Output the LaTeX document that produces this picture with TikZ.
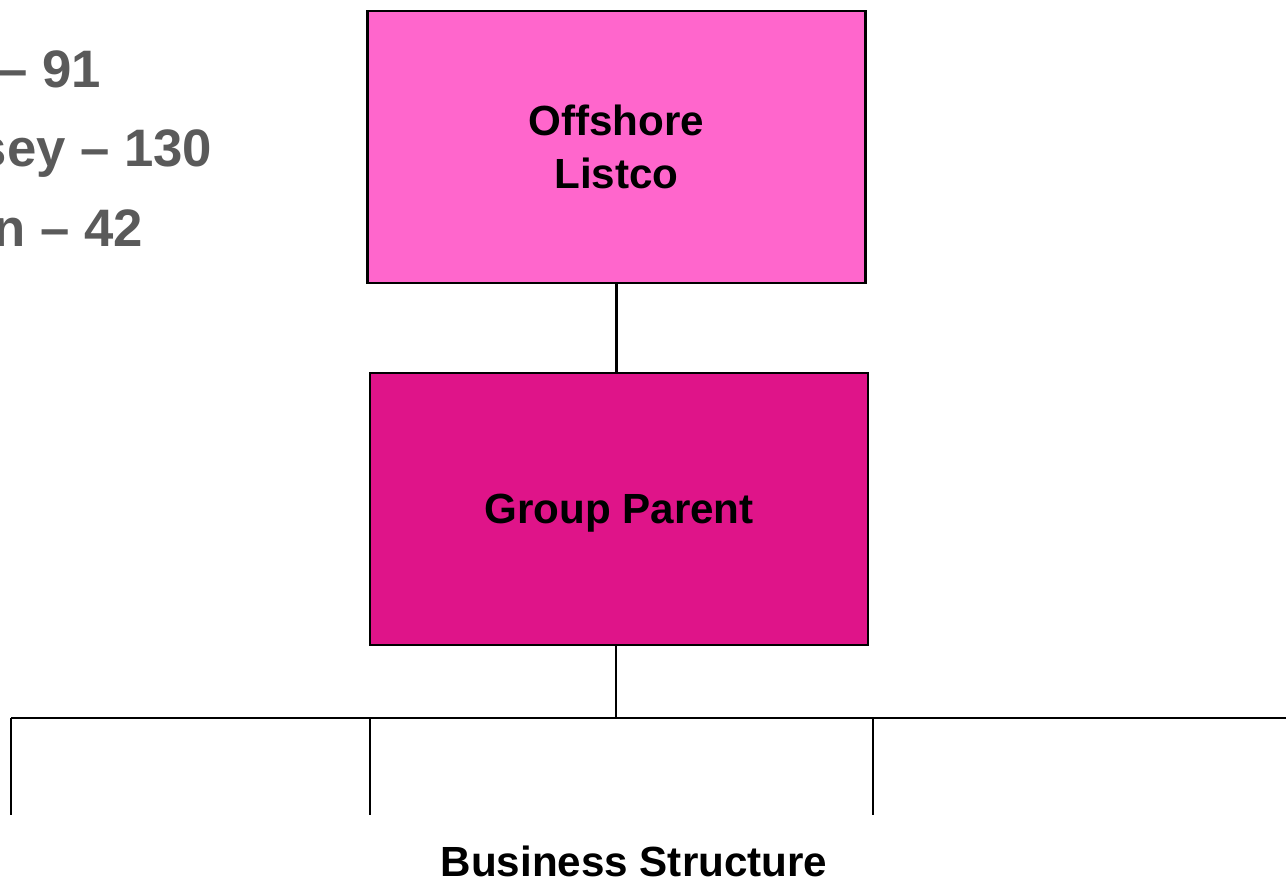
\documentclass[tikz,border=0pt]{standalone}
\usepackage{fontspec}
\setmainfont{Liberation Sans}
\usepackage{tikz}
\usetikzlibrary{calc,positioning}
\definecolor{listcopink}{HTML}{FF66CC}
\definecolor{parentpink}{HTML}{DF1489}
\definecolor{countgray}{HTML}{5A5A5A}
\tikzset{
	entity/.style={draw=black, line width=0.6pt, minimum width=4.98cm, minimum height=2.72cm, align=center, font=\fontsize{12}{15}\selectfont\bfseries, inner sep=0pt, text depth=0pt},
	link/.style={line width=0.6pt, color=black},
	count/.style={anchor=base east, inner sep=0pt, text=countgray, font=\fontsize{15}{18}\selectfont\bfseries}
}

\begin{document}
\begin{tikzpicture}
		%%%%% START %%%%%
		
		\useasboundingbox (0, 0) rectangle (12.86, -8.81);
		\clip (0, 0) rectangle (12.86, -8.81);
		
		\node[count] (jersey) at (1.02, -0.88) {– 91};
		\node[count] (guernsey) at (2.13, -1.67) {sey – 130};
		\node[count] (man) at (1.44, -2.47) {n – 42};
		
		\node[entity, fill=listcopink] (listco) at (6.165, -1.47) {Offshore\\Listco};
		\node[entity, fill=parentpink] (parent) at (6.19, -5.09) {Group Parent};
		
		\draw[link] (listco.south) -- (listco.south |- parent.north);
		
		\coordinate (bar) at (6.16, -7.18);
		\draw[link] (parent.south -| bar) -- (bar);
		\draw[link] (0.11, -7.18) -- (12.9, -7.18);
		\foreach \x in {0.11, 3.70, 8.73}
			\draw[link] (\x, -7.18) -- (\x, -8.15);
		
		\node[anchor=base, inner sep=0pt, font=\fontsize{12}{15}\selectfont\bfseries] (title) at (6.34, -8.77) {Business Structure};
		
		%%%%% END %%%%%
\end{tikzpicture}
\end{document}
